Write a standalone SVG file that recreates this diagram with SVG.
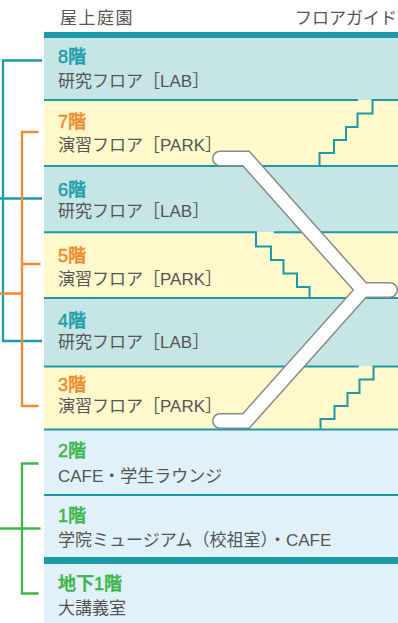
<svg xmlns="http://www.w3.org/2000/svg" width="398" height="623" viewBox="0 0 398 623">
<style>
.lab{fill:#c5e6e5}
.park{fill:#fff9cc}
.low{fill:#e0f1f9}
.bar{fill:#1b9aa7}
.ln{stroke:#1b9aa7;stroke-width:2;fill:none}
text{font-family:"Liberation Sans","Noto Sans CJK JP",sans-serif}
.nm{font-size:17px;fill:#555}
.fl{font-size:18px;font-weight:500;stroke-width:0.5}
.t{fill:#1f9eab;stroke:#1f9eab}
.o{fill:#f18a2d;stroke:#f18a2d}
.g{fill:#3db54a;stroke:#3db54a}
.hd{font-size:17px;fill:#555}
.br{fill:none;stroke-width:2.3}
.esc{fill:none;stroke-linejoin:miter;stroke-linecap:round}
</style>
<rect width="398" height="623" fill="#fff"/>
<g id="header">
<text x="60" y="24" class="hd" letter-spacing="1.5">屋上庭園</text>
<text x="397" y="24" class="hd" text-anchor="end">フロアガイド</text>
</g>
<g id="floor-8">
<rect x="44" y="38" width="354" height="62" class="lab"/>
<rect x="44" y="32" width="354" height="6" class="bar"/>
<text x="58" y="62.5" class="fl t">8階</text>
<text x="58" y="86.5" class="nm">研究フロア［LAB］</text>
</g>
<g id="floor-7">
<rect x="44" y="100" width="354" height="66" class="park"/>
<path class="ln" d="M44,100 H358 M319.5,166 V153 H334 V140 H346 V127 H357.5 V113.5 H372.5 V100 H398"/>
<text x="58" y="128" class="fl o">7階</text>
<text x="58" y="150.5" class="nm">演習フロア［PARK］</text>
</g>
<g id="floor-6">
<rect x="44" y="166" width="354" height="66" class="lab"/>
<path class="ln" d="M44,166 H398"/>
<text x="58" y="195.5" class="fl t">6階</text>
<text x="58" y="216.5" class="nm">研究フロア［LAB］</text>
</g>
<g id="floor-5">
<rect x="44" y="232.3" width="354" height="66" class="park"/>
<path class="ln" d="M44,232.3 H256 V246.5 H271 V260 H283.5 V273.5 H297 V287 H309.5 V298 M274,232.3 H398"/>
<text x="58" y="262" class="fl o">5階</text>
<text x="58" y="285" class="nm">演習フロア［PARK］</text>
</g>
<g id="floor-4">
<rect x="44" y="298" width="354" height="68.5" class="lab"/>
<path class="ln" d="M44,298 H398"/>
<text x="58" y="326.5" class="fl t">4階</text>
<text x="58" y="347.5" class="nm">研究フロア［LAB］</text>
</g>
<g id="floor-3">
<rect x="44" y="366.5" width="354" height="63" class="park"/>
<path class="ln" d="M44,366.5 H358.5 M320.5,429.5 V419 H334.5 V406 H347.5 V393 H359.5 V379.5 H373.5 V366.5 H398"/>
<text x="58" y="390.5" class="fl o">3階</text>
<text x="58" y="411.5" class="nm">演習フロア［PARK］</text>
</g>
<g id="floor-2">
<rect x="44" y="429.5" width="354" height="65.5" class="low"/>
<path class="ln" d="M44,429.5 H398"/>
<text x="58" y="457" class="fl g">2階</text>
<text x="58" y="481.5" class="nm">CAFE・学生ラウンジ</text>
</g>
<g id="floor-1">
<rect x="44" y="495" width="354" height="62" class="low"/>
<path class="ln" d="M44,495 H398"/>
<text x="58" y="521.5" class="fl g">1階</text>
<text x="58" y="545.5" class="nm">学院ミュージアム（校祖室）・CAFE</text>
</g>
<g id="floor-b1">
<rect x="44" y="557" width="354" height="66" class="low"/>
<rect x="44" y="557" width="354" height="7" class="bar"/>
<text x="58" y="590" class="fl g">地下1階</text>
<text x="58" y="613.5" class="nm">大講義室</text>
</g>
<g id="escalator">
<path class="esc" stroke="#8a8a8a" stroke-width="16" d="M220,158.5 H246 L363,290 H390 M220,421 H246 L363,290 H390"/>
<path class="esc" stroke="#ffffff" stroke-width="13" d="M220,158.5 H246 L363,290 H390 M220,421 H246 L363,290 H390"/>
</g>
<g id="connectors">
<path class="br" stroke="#1b9aa7" d="M42,60.5 H3 V341 H42 M0,198.5 H42"/>
<path class="br" stroke="#f18a2d" d="M38.5,132 H22 V406 H38.5 M22,264 H40.5 M0,293.5 H22"/>
<path class="br" stroke="#3db54a" d="M38.5,463.5 H22 V593.5 H38.5 M0,528.5 H40.5"/>
</g>
</svg>
